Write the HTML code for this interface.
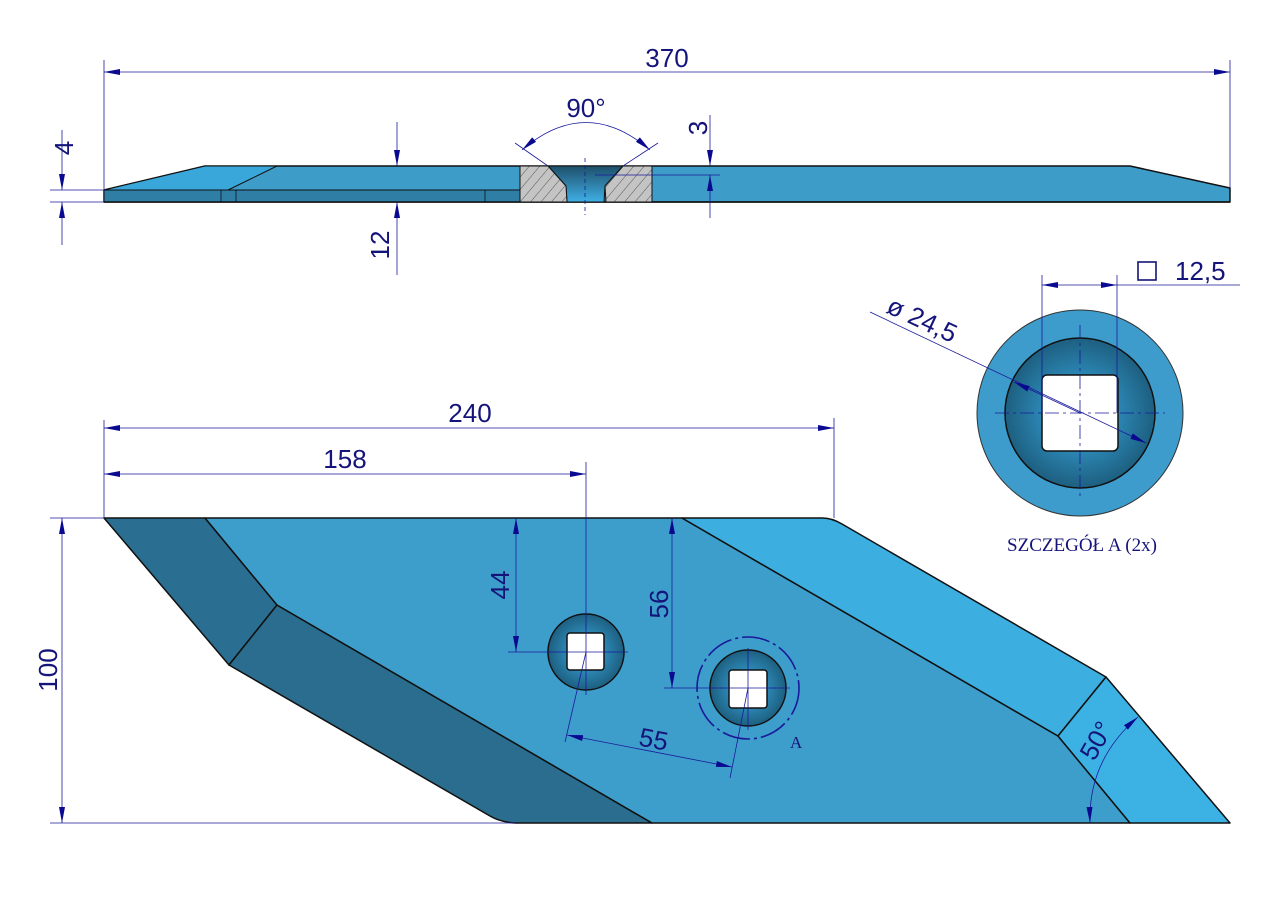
<!DOCTYPE html>
<html><head><meta charset="utf-8"><style>
html,body{margin:0;padding:0;background:#fff;}
svg{display:block;}
text{font-family:"Liberation Sans",sans-serif;fill:#14147a;}
</style></head><body>
<svg width="1280" height="905" viewBox="0 0 1280 905" xmlns="http://www.w3.org/2000/svg">
<defs>
<marker id="a" viewBox="0 0 16 6" refX="16" refY="3" markerWidth="16" markerHeight="6" orient="auto-start-reverse" markerUnits="userSpaceOnUse"><path d="M0,0 L16,3 L0,6 z" fill="#0a0a90"/></marker>
<pattern id="h" width="8" height="8" patternUnits="userSpaceOnUse" patternTransform="rotate(40)"><rect width="8" height="8" fill="#c4c4c4"/><line x1="0" y1="0" x2="0" y2="8" stroke="#555" stroke-width="1"/></pattern>
<radialGradient id="g1" cx="0.5" cy="0.5" r="0.5"><stop offset="0.4" stop-color="#2f8fbf"/><stop offset="1" stop-color="#1d5f80"/></radialGradient>
<linearGradient id="g2" x1="0" y1="0" x2="0" y2="1"><stop offset="0" stop-color="#1e4f6a"/><stop offset="0.5" stop-color="#2f7fa8"/><stop offset="1" stop-color="#3fb0e6"/></linearGradient>
</defs>

<!-- SIDE VIEW -->
<g stroke="#111" stroke-width="1.5" stroke-linejoin="round">
<polygon points="104,190 205,166 1130,166 1230,188 1230,202 104,202" fill="#3e9cc8"/>
<polygon points="104,190 520,190 520,202 104,202" fill="#2f7ea6" stroke-width="1"/>
<polygon points="104,190 205,166 277,166 228,190" fill="#3aa7da" stroke-width="1"/>
<line x1="104" y1="202" x2="1230" y2="202"/>
<line x1="221" y1="190" x2="221" y2="202" stroke-width="0.8"/>
<line x1="236" y1="190" x2="236" y2="202" stroke-width="0.8"/>
<line x1="485" y1="190" x2="485" y2="202" stroke-width="0.8"/>
<polygon points="548,166 623,166 605,186 604,202 567,202 566,186" fill="url(#g2)" stroke-width="1"/>
<polygon points="520,166 548,166 566,186 567,202 520,202" fill="url(#h)" stroke-width="1"/>
<polygon points="623,166 652,166 652,202 606,202 605,186" fill="url(#h)" stroke-width="1"/>
</g>
<g stroke="#1a1a9a" stroke-width="0.8" fill="none">
<line x1="104" y1="60" x2="104" y2="190"/>
<line x1="1230" y1="60" x2="1230" y2="188"/>
<line x1="104" y1="72" x2="1230" y2="72" marker-start="url(#a)" marker-end="url(#a)"/>
<line x1="50" y1="190" x2="104" y2="190"/><line x1="50" y1="202" x2="104" y2="202"/>
<line x1="62" y1="130" x2="62" y2="190" marker-end="url(#a)"/>
<line x1="62" y1="245" x2="62" y2="202" marker-end="url(#a)"/>
<line x1="397" y1="122" x2="397" y2="166" marker-end="url(#a)"/>
<line x1="397" y1="275" x2="397" y2="202" marker-end="url(#a)"/>
<line x1="710" y1="115" x2="710" y2="166" marker-end="url(#a)"/>
<line x1="710" y1="218" x2="710" y2="175" marker-end="url(#a)"/>
<line x1="595" y1="175" x2="720" y2="175"/>
<line x1="585" y1="158" x2="585" y2="215" stroke-dasharray="4,3"/>
<line x1="515" y1="143" x2="548" y2="166"/><line x1="658" y1="143" x2="623" y2="166"/>
<path d="M522,150 Q586,95 650,150" marker-start="url(#a)" marker-end="url(#a)"/>
</g>
<text x="667" y="67" font-size="26" text-anchor="middle">370</text>
<text x="586" y="117" font-size="26" text-anchor="middle">90°</text>
<text font-size="26" transform="translate(73,148) rotate(-90)" text-anchor="middle">4</text>
<text font-size="26" transform="translate(389,245) rotate(-90)" text-anchor="middle">12</text>
<text font-size="26" transform="translate(707,128) rotate(-90)" text-anchor="middle">3</text>

<!-- PLAN VIEW -->
<g stroke="#111" stroke-width="1.5" stroke-linejoin="round">
<polygon points="104,518 205,518 277,605 229,665" fill="#2a6e92"/>
<path d="M229,665 L277,605 L652,823 L515,823 Q500,822 490,816 Z" fill="#2b6d8e"/>
<polygon points="205,518 682,518 1058,736 1130,823 652,823 277,605" fill="#3e9ecb"/>
<path d="M682,518 L822,518 Q832,518 842,524 L1106,677 L1058,736 Z" fill="#3caee0"/>
<polygon points="1058,736 1106,677 1230,823 1130,823" fill="#3cb2e4"/>
</g>
<g stroke="#111" stroke-width="1.5">
<circle cx="586" cy="652" r="38" fill="url(#g1)"/>
<rect x="567" y="633" width="37" height="37" rx="3" fill="#fff"/>
<circle cx="748" cy="688" r="38" fill="url(#g1)"/>
<rect x="729" y="670" width="38" height="38" rx="3" fill="#fff"/>
</g>
<g stroke="#1a1a9a" stroke-width="0.8" fill="none">
<circle cx="748" cy="688" r="51" stroke-width="1.6" stroke-dasharray="28,4,3,4"/>
<line x1="104" y1="420" x2="104" y2="518"/>
<line x1="834" y1="418" x2="834" y2="518"/>
<line x1="586" y1="462" x2="586" y2="695"/>
<line x1="104" y1="428" x2="834" y2="428" marker-start="url(#a)" marker-end="url(#a)"/>
<line x1="104" y1="474" x2="586" y2="474" marker-start="url(#a)" marker-end="url(#a)"/>
<line x1="50" y1="518" x2="104" y2="518"/><line x1="50" y1="823" x2="515" y2="823"/>
<line x1="62" y1="518" x2="62" y2="823" marker-start="url(#a)" marker-end="url(#a)"/>
<line x1="508" y1="652" x2="628" y2="652"/>
<line x1="516" y1="518" x2="516" y2="652" marker-start="url(#a)" marker-end="url(#a)"/>
<line x1="664" y1="688" x2="790" y2="688"/>
<line x1="672" y1="518" x2="672" y2="688" marker-start="url(#a)" marker-end="url(#a)"/>
<line x1="748" y1="648" x2="748" y2="730"/>
<line x1="586" y1="652" x2="565" y2="742"/>
<line x1="748" y1="688" x2="730" y2="778"/>
<line x1="567" y1="735" x2="732" y2="767" marker-start="url(#a)" marker-end="url(#a)"/>
<path d="M1090,823 Q1088,760 1138,717" marker-start="url(#a)" marker-end="url(#a)"/>
</g>
<text x="470" y="422" font-size="26" text-anchor="middle">240</text>
<text x="345" y="468" font-size="26" text-anchor="middle">158</text>
<text font-size="26" transform="translate(57,670) rotate(-90)" text-anchor="middle">100</text>
<text font-size="26" transform="translate(509,585) rotate(-90)" text-anchor="middle">44</text>
<text font-size="26" transform="translate(668,604) rotate(-90)" text-anchor="middle">56</text>
<text font-size="26" transform="translate(652,748) rotate(11)" text-anchor="middle">55</text>
<text font-size="26" transform="translate(1104,745) rotate(-60)" text-anchor="middle">50°</text>
<text x="790" y="748" font-size="17" style="font-family:'Liberation Serif',serif">A</text>

<!-- DETAIL A -->
<circle cx="1080" cy="413" r="103" fill="#3d9ccb" stroke="#333" stroke-width="1"/>
<circle cx="1080" cy="413" r="75" fill="url(#g1)" stroke="#111" stroke-width="1.5"/>
<rect x="1042" y="375" width="76" height="76" rx="5" fill="#fff" stroke="#111" stroke-width="1.5"/>
<g stroke="#1a1a9a" stroke-width="0.8" fill="none">
<line x1="995" y1="413" x2="1165" y2="413" stroke-dasharray="14,4,3,4"/>
<line x1="1080" y1="325" x2="1080" y2="498" stroke-dasharray="14,4,3,4"/>
<line x1="1042" y1="275" x2="1042" y2="413"/>
<line x1="1117" y1="275" x2="1117" y2="413"/>
<line x1="1042" y1="285" x2="1117" y2="285" marker-start="url(#a)" marker-end="url(#a)"/>
<line x1="1117" y1="285" x2="1240" y2="285"/>
<line x1="870" y1="312" x2="1146" y2="443" marker-end="url(#a)"/>
<line x1="1080" y1="413" x2="1014" y2="382" marker-end="url(#a)"/>
</g>
<rect x="1138" y="262" width="18" height="18" fill="none" stroke="#14147a" stroke-width="1.6"/>
<text x="1175" y="280" font-size="26">12,5</text>
<text font-size="26" transform="translate(885,312) rotate(25)">ø 24,5</text>
<text x="1082" y="551" font-size="19" text-anchor="middle" style="font-family:'Liberation Serif',serif">SZCZEGÓŁ A (2x)</text>
</svg>
</body></html>
